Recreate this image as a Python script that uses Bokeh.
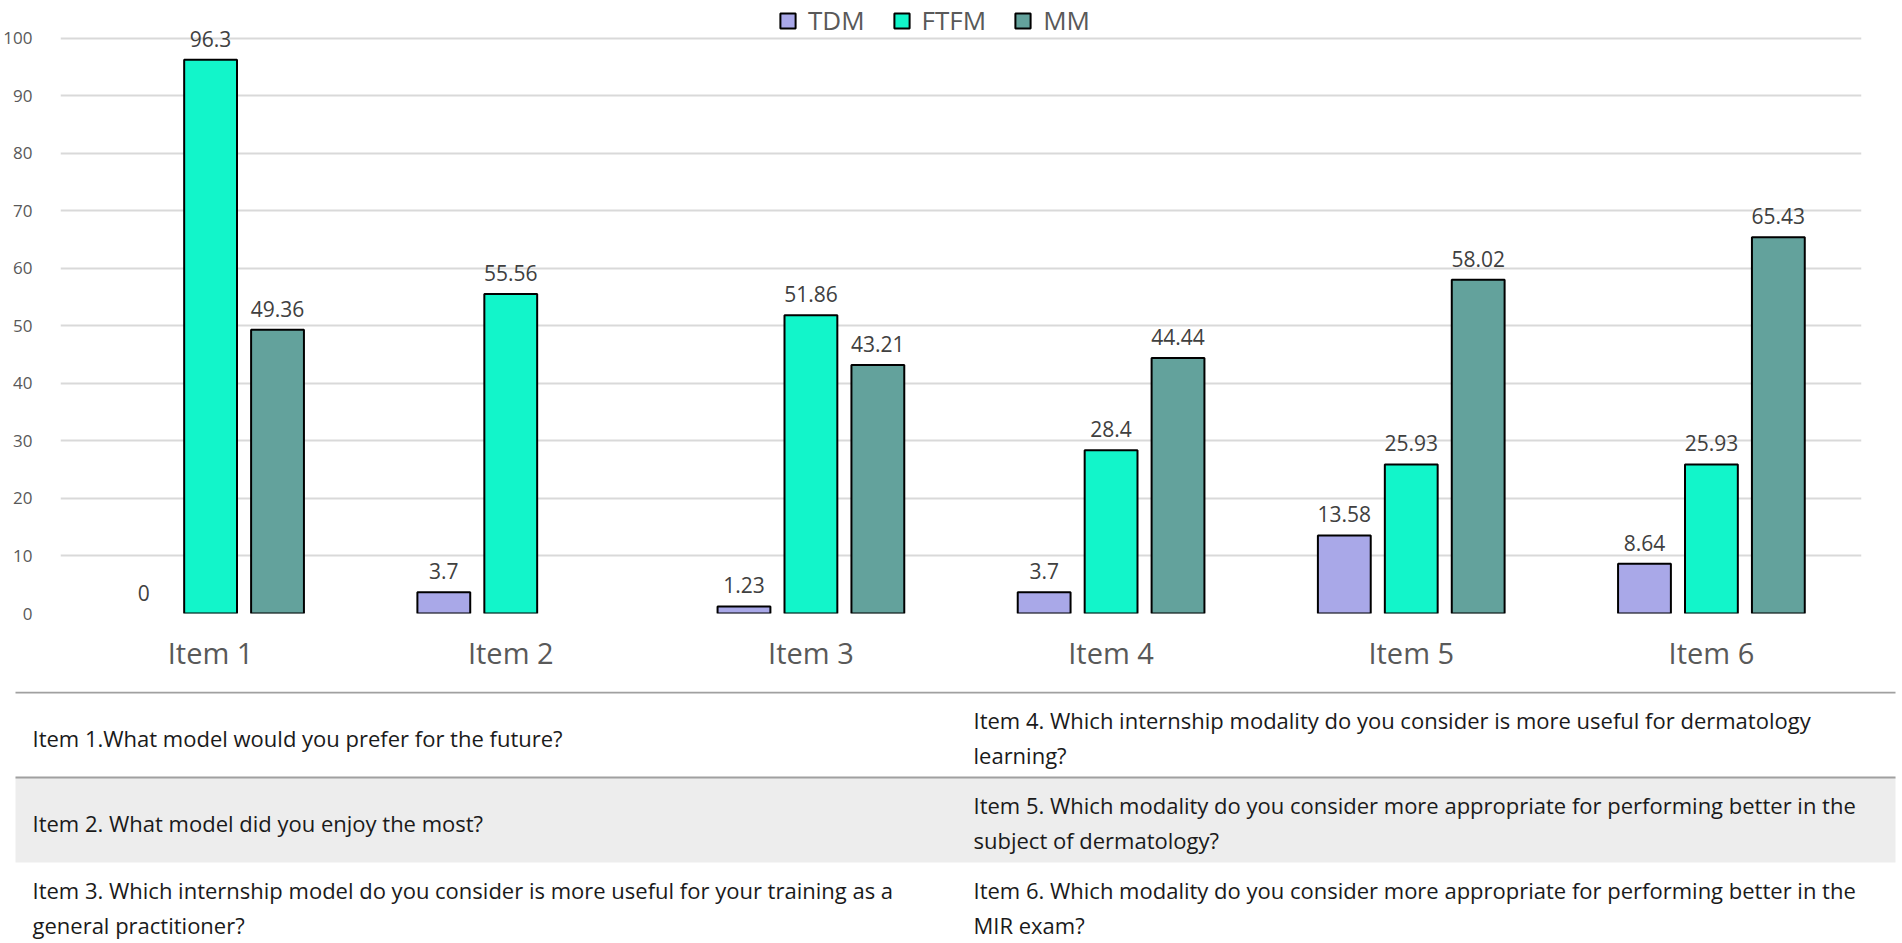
from bokeh.plotting import figure
from bokeh.models import ColumnDataSource, FactorRange, Range1d, FixedTicker, Legend, LegendItem
from bokeh.transform import dodge
from bokeh.layouts import column
from bokeh.embed import file_html
from bokeh.resources import INLINE
from bokeh.core.properties import value

# ---------------- data ----------------
items = ["Item 1", "Item 2", "Item 3", "Item 4", "Item 5", "Item 6"]
series = ["TDM", "FTFM", "MM"]
tdm = [0, 3.7, 1.23, 3.7, 13.58, 8.64]
ftfm = [96.3, 55.56, 51.86, 28.4, 25.93, 25.93]
mm = [49.36, None, 43.21, 44.44, 58.02, 65.43]
y_ticks = [0, 10, 20, 30, 40, 50, 60, 70, 80, 90, 100]

left_questions = [
    ["Item 1.What model would you prefer for the future?"],
    ["Item 2. What model did you enjoy the most?"],
    ["Item 3. Which internship model do you consider is more useful for your training as a",
     "general practitioner?"],
]
right_questions = [
    ["Item 4. Which internship modality do you consider is more useful for dermatology",
     "learning?"],
    ["Item 5. Which modality do you consider more appropriate for performing better in the",
     "subject of dermatology?"],
    ["Item 6. Which modality do you consider more appropriate for performing better in the",
     "MIR exam?"],
]

# ---------------- style ----------------
colors = ["#a9a8e8", "#12f5ca", "#63a29c"]
offsets = [-0.223, 0.0, 0.223]
FONT = "Open Sans"
W = 1902
CH = 691          # chart figure height
TH = 943 - CH     # table figure height


def no_align(fig):
    if "frame_align" in fig.properties():
        fig.frame_align = False


p = figure(x_range=FactorRange(*items, range_padding=0), y_range=Range1d(0, 106.6),
           width=W, height=CH, output_backend="svg", toolbar_location=None,
           min_border_left=57, min_border_right=41, min_border_top=0, min_border_bottom=78,
           background_fill_color="white", border_fill_color="white")
no_align(p)
p.outline_line_color = None
p.xgrid.grid_line_color = None
p.ygrid.grid_line_color = "#d9d9d9"
p.ygrid.grid_line_width = 2
p.yaxis.ticker = FixedTicker(ticks=y_ticks)
p.yaxis.axis_line_color = None
p.yaxis.major_tick_line_color = None
p.yaxis.minor_tick_line_color = None
p.yaxis.major_label_standoff = 22
p.yaxis.major_label_text_font = FONT
p.yaxis.major_label_text_font_size = "17px"
p.yaxis.major_label_text_color = "#595959"
p.xaxis.axis_line_color = None
p.xaxis.major_tick_line_color = None
p.xaxis.major_label_standoff = 13
p.xaxis.major_label_text_font = FONT
p.xaxis.major_label_text_font_size = "29px"
p.xaxis.major_label_text_color = "#595959"

legend_items = []
for name, vals, off, col in zip(series, [tdm, ftfm, mm], offsets, colors):
    bsrc = ColumnDataSource(dict(item=[it for it, v in zip(items, vals) if v],
                                 v=[v for v in vals if v]))
    r = p.vbar(x=dodge("item", off, range=p.x_range), top="v", width=0.176, source=bsrc,
               fill_color=col, line_color="black", line_width=2)
    legend_items.append(LegendItem(label=name, renderers=[r]))
    lsrc = ColumnDataSource(dict(item=[it for it, v in zip(items, vals) if v is not None],
                                 v=[v for v in vals if v is not None],
                                 t=[f"{v:g}" for v in vals if v is not None]))
    p.text(x=dodge("item", off, range=p.x_range), y="v", text="t", source=lsrc,
           text_align="center", text_baseline="alphabetic", y_offset=-21,
           text_font=value(FONT), text_font_size="21px", text_color="#404040")

legend = Legend(items=legend_items, location=(718, 575), orientation="horizontal",
                glyph_width=19, glyph_height=19, label_standoff=11, spacing=27,
                padding=0, margin=0, border_line_color=None, background_fill_alpha=0,
                label_text_font=FONT, label_text_font_size="26px", label_text_color="#595959")
p.add_layout(legend)

# ---------------- question table ----------------
t = figure(x_range=Range1d(0, W), y_range=Range1d(TH, 0), width=W, height=TH,
           output_backend="svg", toolbar_location=None, min_border=0,
           min_border_left=0, min_border_right=0, min_border_top=0, min_border_bottom=0,
           background_fill_color="white", border_fill_color="white")
no_align(t)
t.axis.visible = False
t.grid.visible = False
t.outline_line_color = None

row_top = [1, 86, 171]
row_h = 85
x_left, x_right = 32, 973
line_x0, line_x1 = 15, 1895

t.quad(left=line_x0, right=line_x1, top=row_top[1], bottom=row_top[1] + row_h,
       fill_color="#ededed", line_color=None)
t.segment(x0=[line_x0, line_x0], x1=[line_x1, line_x1], y0=row_top[:2], y1=row_top[:2],
          line_color="#a0a0a0", line_width=2)

tx, ty, tt = [], [], []
for i in range(3):
    for col_x, q in ((x_left, left_questions[i]), (x_right, right_questions[i])):
        offs = [45] if len(q) == 1 else [27, 62]
        for line, o in zip(q, offs):
            tx.append(col_x)
            ty.append(row_top[i] + o)
            tt.append(line)
t.text(x=tx, y=ty, text=tt, text_align="left", text_baseline="alphabetic",
       text_font=value(FONT), text_font_size="22px", text_color="#1a1a1a")

layout = column(p, t)
open("out.html", "w").write(file_html(layout, INLINE))
